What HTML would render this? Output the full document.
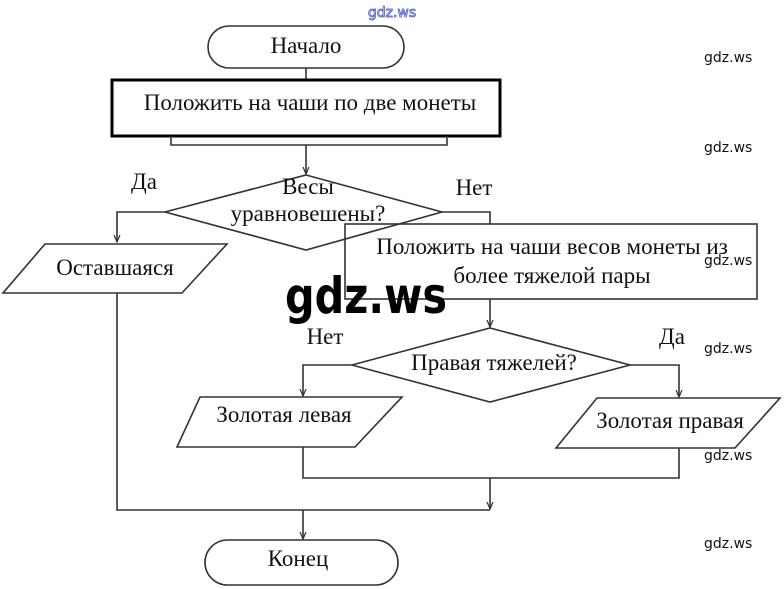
<!DOCTYPE html>
<html><head><meta charset="utf-8"><style>
html,body{margin:0;padding:0;background:#fff;width:784px;height:589px;overflow:hidden}
svg{display:block}
.t{font-family:"Liberation Serif",serif;font-size:23px;fill:#111}
.w{font-family:"DejaVu Sans","Liberation Sans",sans-serif;font-size:14px;fill:#111}
</style></head><body>
<svg width="784" height="589" viewBox="0 0 784 589" xmlns="http://www.w3.org/2000/svg">
<defs><marker id="a" markerWidth="8" markerHeight="8" refX="4" refY="7" orient="0" markerUnits="userSpaceOnUse"><path d="M1,0 L4,7 L7,0" fill="none" stroke="#333" stroke-width="1.2"/></marker></defs>
<g fill="none" stroke="#333" stroke-width="1.6">
<rect x="208" y="26" width="196" height="42" rx="21"/>
<line x1="306" y1="68" x2="306" y2="80"/>
<rect x="112" y="80" width="388" height="56" stroke="#000" stroke-width="3"/>
<path d="M171,136 V145 H447 V136"/>
<line x1="306" y1="145" x2="306" y2="174" marker-end="url(#a)"/>
<polygon points="306,175 442,212 306,250 165,212"/>
<path d="M165,212 H117 V242" marker-end="url(#a)"/>
<polygon points="45,244 227,244 182,293 3,293"/>
<path d="M117,293 V510 H490"/>
<path d="M442,212 H490 V224"/>
<rect x="345" y="224" width="412" height="75"/>
<line x1="490" y1="299" x2="490" y2="327" marker-end="url(#a)"/>
<polygon points="490,328 630,365 490,402 352,365"/>
<path d="M352,365 H303 V396" marker-end="url(#a)"/>
<polygon points="200,397 402,397 355,447 177,447"/>
<path d="M630,365 H679 V397" marker-end="url(#a)"/>
<polygon points="597,398 780,398 735,448 556,448"/>
<path d="M303,447 V478 H679 V448"/>
<line x1="490" y1="478" x2="490" y2="509" marker-end="url(#a)"/>
<line x1="303" y1="510" x2="303" y2="539" marker-end="url(#a)"/>
<rect x="205" y="540" width="193" height="45" rx="22.5"/>
</g>
<text class="t" x="306" y="53" text-anchor="middle">Начало</text>
<text class="t" x="310" y="110" text-anchor="middle">Положить на чаши по две монеты</text>
<text class="t" x="144" y="189" text-anchor="middle">Да</text>
<text class="t" x="474" y="195" text-anchor="middle">Нет</text>
<text class="t" x="308" y="194" text-anchor="middle">Весы</text>
<text class="t" x="308" y="221" text-anchor="middle">уравновешены?</text>
<text class="t" x="115" y="275" text-anchor="middle">Оставшаяся</text>
<text class="t" x="552" y="254" text-anchor="middle">Положить на чаши весов монеты из</text>
<text class="t" x="552" y="283" text-anchor="middle">более тяжелой пары</text>
<text class="t" x="325" y="344" text-anchor="middle">Нет</text>
<text class="t" x="672" y="344" text-anchor="middle">Да</text>
<text class="t" x="494" y="370" text-anchor="middle">Правая тяжелей?</text>
<text class="t" x="284" y="422" text-anchor="middle">Золотая левая</text>
<text class="t" x="670" y="428" text-anchor="middle">Золотая правая</text>
<text class="t" x="298" y="566" text-anchor="middle">Конец</text>
<text x="392" y="17" text-anchor="middle" font-family="DejaVu Sans,sans-serif" font-size="14" fill="#fff" stroke="#4455cc" stroke-width="0.8">gdz.ws</text>
<text x="285" y="313" textLength="162" lengthAdjust="spacingAndGlyphs" font-family="DejaVu Sans,sans-serif" font-weight="bold" font-size="50" fill="#000">gdz.ws</text>
<text class="w" x="704" y="62">gdz.ws</text>
<text class="w" x="704" y="152">gdz.ws</text>
<text class="w" x="704" y="265">gdz.ws</text>
<text class="w" x="704" y="353">gdz.ws</text>
<text class="w" x="704" y="460">gdz.ws</text>
<text class="w" x="704" y="548">gdz.ws</text>
</svg>
</body></html>
